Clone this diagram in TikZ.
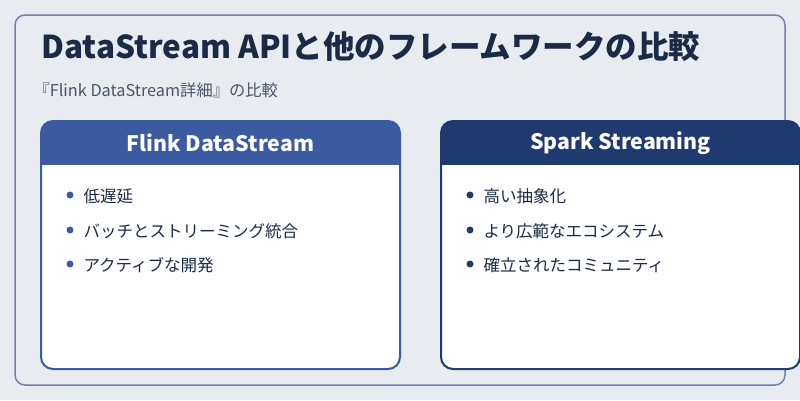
\documentclass[tikz,border=0pt]{standalone}
\usepackage{fontspec}
\setmainfont{Noto Sans CJK JP}
\definecolor{bg}{HTML}{E8ECF1}
\definecolor{frame}{HTML}{6E82AD}
\definecolor{navy}{HTML}{1B2A45}
\definecolor{blueA}{HTML}{3A5BA0}
\definecolor{blueB}{HTML}{1F3A6E}
\definecolor{gtxt}{HTML}{4A5568}
\tikzset{
 hdr/.style={font=\fontsize{21.3}{25}\selectfont\bfseries, text=white, anchor=center},
 item/.style={font=\fontsize{16.5}{19}\selectfont, text=navy, anchor=west},
 dot/.style={circle, fill=#1, inner sep=0pt, minimum size=7pt}
}
\begin{document}
\begin{tikzpicture}[x=1pt,y=-1pt]
\useasboundingbox (0,0) rectangle (800,400);
\fill[bg] (0,0) rectangle (800,400);
\draw[frame, line width=1.5pt, rounded corners=10pt] (15,15) rectangle (785,385);
\node[anchor=west, font=\fontsize{31.5}{36}\selectfont\bfseries, text=navy] (title) at (38,47) {DataStream APIと他のフレームワークの比較};
\node[anchor=west, font=\fontsize{16.3}{19}\selectfont, text=gtxt] (sub) at (30,90) {『Flink DataStream詳細』の比較};
% left card
\draw[blueA, line width=2pt, fill=white, rounded corners=12pt] (41,121) rectangle (400,369);
\fill[blueA, rounded corners=12pt] (41,121) rectangle (400,150);
\fill[blueA] (41,140) rectangle (400,165);
\node[hdr] (lh) at (220.5,143) {Flink DataStream};
\node[dot=blueA] (lb1) at (70,195) {};
\node[dot=blueA] (lb2) at (70,230) {};
\node[dot=blueA] (lb3) at (70,264) {};
\node[item] (l1) at (80,196) {低遅延};
\node[item] (l2) at (80,231) {バッチとストリーミング統合};
\node[item] (l3) at (80,265) {アクティブな開発};
% right card
\draw[blueB, line width=2pt, fill=white, rounded corners=12pt] (441,121) rectangle (800,369);
\fill[blueB, rounded corners=12pt] (441,121) rectangle (800,150);
\fill[blueB] (441,140) rectangle (800,165);
\node[hdr] (rh) at (620.5,143) {Spark Streaming};
\node[dot=blueB] (rb1) at (470,195) {};
\node[dot=blueB] (rb2) at (470,230) {};
\node[dot=blueB] (rb3) at (470,264) {};
\node[item] (r1) at (480,196) {高い抽象化};
\node[item] (r2) at (480,231) {より広範なエコシステム};
\node[item] (r3) at (480,265) {確立されたコミュニティ};
\end{tikzpicture}
\end{document}
